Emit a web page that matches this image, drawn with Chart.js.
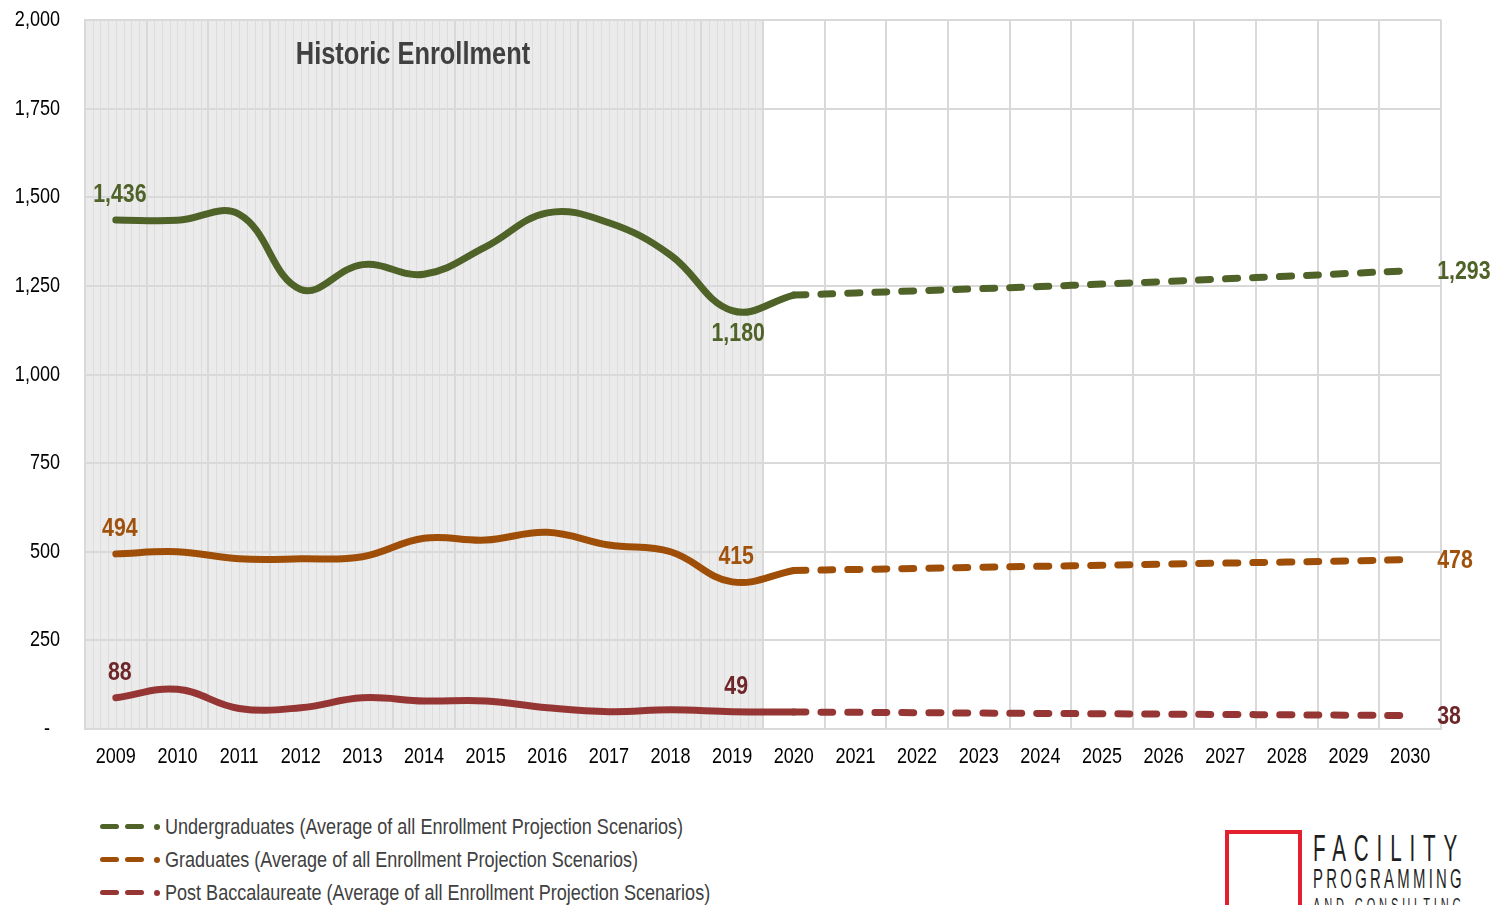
<!DOCTYPE html>
<html>
<head>
<meta charset="utf-8">
<script src="https://cdn.jsdelivr.net/npm/chart.js@4.4.1/dist/chart.umd.min.js"></script>
<style>
html,body{margin:0;padding:0;background:#fff;width:1497px;height:905px;overflow:hidden;position:relative;
  font-family:"Liberation Sans",Arial,sans-serif;}
#wrap{position:absolute;left:0;top:0;width:1497px;height:790px;}
#legend{position:absolute;left:100px;top:810px;}
.item{height:33px;display:flex;align-items:center;font-size:22px;color:#404040;white-space:nowrap;}
.dash{display:inline-block;width:19px;height:5px;border-radius:3px;margin-right:6px;flex:none;}
.dot{display:inline-block;width:6px;height:6px;border-radius:50%;margin-right:5px;margin-left:4px;flex:none;}
.txt{display:inline-block;transform:scaleX(0.82);transform-origin:left center;}
#logoBox{position:absolute;left:1225px;top:830px;width:69px;height:90px;border:4px solid #E2202E;box-sizing:content-box;}
.logoT{position:absolute;left:1313px;color:#1f1f1f;font-family:"Liberation Sans",sans-serif;white-space:nowrap;transform-origin:left top;line-height:1;}
</style>
</head>
<body>
<div id="wrap"><canvas id="c"></canvas></div>
<div id="legend"></div>
<div id="logoBox"></div>
<div class="logoT" data-w="152" style="top:830px;font-size:37px;letter-spacing:14px;">FACILITY</div>
<div class="logoT" data-w="152" style="top:866px;font-size:27px;letter-spacing:6px;">PROGRAMMING</div>
<div class="logoT" data-w="152" style="top:895px;font-size:20px;letter-spacing:7px;">AND CONSULTING</div>
<script>
// ---- data ----
const years = ['2009','2010','2011','2012','2013','2014','2015','2016','2017','2018','2019','2020','2021','2022','2023','2024','2025','2026','2027','2028','2029','2030'];
const ugHistoric   = [1436,1435,1452,1240,1310,1283,1360,1456,1428,1337,1180,1224,null,null,null,null,null,null,null,null,null,null];
const ugProjected  = [null,null,null,null,null,null,null,null,null,null,null,1224,1230,1236,1242,1248,1255,1262,1270,1277,1285,1293];
const grHistoric   = [494,500,480,480,486,538,533,555,519,500,415,447,null,null,null,null,null,null,null,null,null,null];
const grProjected  = [null,null,null,null,null,null,null,null,null,null,null,447,450,453,456,459,462,465,468,471,474,478];
const pbHistoric   = [88,112,58,60,88,79,79,60,49,54,49,48,null,null,null,null,null,null,null,null,null,null];
const pbProjected  = [null,null,null,null,null,null,null,null,null,null,null,48,47,46,45,44,43,42,41,40,39,38];
const yTicks = [0,250,500,750,1000,1250,1500,1750,2000];
const seriesNames = [
  'Undergraduates (Average of all Enrollment Projection Scenarios)',
  'Graduates (Average of all Enrollment Projection Scenarios)',
  'Post Baccalaureate (Average of all Enrollment Projection Scenarios)'
];
const historicTitle = 'Historic Enrollment';
const historicLastIndex = 10; // shading covers 2009..2019

const GREEN = '#4F6228', ORANGE = '#9F4E08', RED = '#963634';
const GREEN_T = '#4F6228', ORANGE_T = '#A0520C', RED_T = '#6E2628';
const FONT = '"Liberation Sans", Arial, sans-serif';
const NARROW = 0.82;

// logo fitting
document.querySelectorAll('.logoT').forEach(el => {
  const w = el.getBoundingClientRect().width;
  el.style.transform = `scaleX(${(+el.dataset.w) / w})`;
});

// legend (HTML)
const legendColors = [GREEN, ORANGE, RED];
const leg = document.getElementById('legend');
seriesNames.forEach((n, i) => {
  const d = document.createElement('div'); d.className = 'item';
  const c = legendColors[i];
  d.innerHTML = `<span class="dash" style="background:${c}"></span><span class="dash" style="background:${c}"></span><span class="dot" style="background:${c}"></span><span class="txt">${n}</span>`;
  leg.appendChild(d);
});

function narrowText(ctx, text, x, y, align, font, color) {
  ctx.save();
  ctx.font = font; ctx.fillStyle = color;
  ctx.textAlign = align; ctx.textBaseline = 'middle';
  ctx.translate(x, y); ctx.scale(NARROW, 1);
  ctx.fillText(text, 0, 0);
  ctx.restore();
}

const shadePlugin = {
  id: 'shade',
  beforeDraw(chart) {
    const {ctx, chartArea: a, scales: {x}} = chart;
    const bw = x.getPixelForValue(1) - x.getPixelForValue(0);
    const x1 = (x.getPixelForValue(historicLastIndex) + x.getPixelForValue(historicLastIndex + 1)) / 2;
    ctx.save();
    ctx.fillStyle = '#EBEBEB';
    ctx.fillRect(a.left, a.top, x1 - a.left, a.bottom - a.top);
    ctx.strokeStyle = '#DDDDDD';
    ctx.lineWidth = 1;
    for (let i = 0; i <= historicLastIndex; i++) {
      const s = x.getPixelForValue(i) - bw / 2;
      for (let k = 1; k < 8; k++) {
        const px = Math.round(s + k * bw / 8) + 0.5;
        ctx.beginPath(); ctx.moveTo(px, a.top); ctx.lineTo(px, a.bottom); ctx.stroke();
      }
    }
    ctx.restore();
  },
  beforeDatasetsDraw(chart) {
    const {ctx, chartArea: a, scales: {x, y}} = chart;
    const x1 = (x.getPixelForValue(historicLastIndex) + x.getPixelForValue(historicLastIndex + 1)) / 2;
    narrowText(ctx, historicTitle, (a.left + x1) / 2 - 11, 55, 'center', 'bold 31px ' + FONT, '#404040');
    x.ticks.forEach((t, i) => {
      narrowText(ctx, years[i], x.getPixelForTick(i), 757, 'center', '22px ' + FONT, '#000');
    });
    y.ticks.forEach((t) => {
      const v = t.value;
      const s = v === 0 ? '-' : v.toLocaleString('en-US');
      narrowText(ctx, s, v === 0 ? 50 : 60, y.getPixelForValue(v), 'right', '22px ' + FONT, '#000');
    });
  }
};

const labelSpecs = [
  {ds: 0, i: 0, pos: 'above', color: GREEN_T},
  {ds: 0, i: 10, pos: 'below', color: GREEN_T},
  {ds: 1, i: 21, pos: 'right', color: GREEN_T},
  {ds: 2, i: 0, pos: 'above', color: ORANGE_T},
  {ds: 2, i: 10, pos: 'above', color: ORANGE_T},
  {ds: 3, i: 21, pos: 'right', color: ORANGE_T},
  {ds: 4, i: 0, pos: 'above', color: RED_T},
  {ds: 4, i: 10, pos: 'above', color: RED_T},
  {ds: 5, i: 21, pos: 'right', color: RED_T}
];
const labelPlugin = {
  id: 'vlabels',
  afterDatasetsDraw(chart) {
    const ctx = chart.ctx;
    const f = 'bold 26px ' + FONT;
    labelSpecs.forEach(s => {
      const el = chart.getDatasetMeta(s.ds).data[s.i];
      const v = chart.data.datasets[s.ds].data[s.i];
      const t = v.toLocaleString('en-US');
      if (s.pos === 'right') narrowText(ctx, t, el.x + 27, el.y + 1, 'left', f, s.color);
      else if (s.pos === 'above') narrowText(ctx, t, el.x + 4, el.y - 25, 'center', f, s.color);
      else narrowText(ctx, t, el.x + 6, el.y + 23, 'center', f, s.color);
    });
  }
};

function hist(data, color) {
  return {data, borderColor: color, backgroundColor: color, borderWidth: 7, tension: 0.4,
    pointRadius: 0, borderCapStyle: 'round', borderJoinStyle: 'round', fill: false};
}
function proj(data, color, label) {
  return {label, data, borderColor: color, backgroundColor: color, borderWidth: 7, tension: 0.4,
    pointRadius: 0, borderCapStyle: 'round', borderDash: [12, 15], fill: false};
}

new Chart(document.getElementById('c'), {
  type: 'line',
  data: {
    labels: years,
    datasets: [
      hist(ugHistoric, GREEN), proj(ugProjected, GREEN, seriesNames[0]),
      hist(grHistoric, ORANGE), proj(grProjected, ORANGE, seriesNames[1]),
      hist(pbHistoric, RED), proj(pbProjected, RED, seriesNames[2])
    ]
  },
  options: {
    responsive: true, maintainAspectRatio: false, animation: false,
    layout: {padding: {left: 0, right: 56, top: 20, bottom: 0}},
    plugins: {legend: {display: false}, tooltip: {enabled: false}},
    scales: {
      x: {
        offset: true,
        grid: {offset: true, color: '#D9D9D9', lineWidth: 2, drawTicks: false},
        border: {color: '#D9D9D9', width: 2},
        ticks: {color: 'rgba(0,0,0,0)', font: {family: FONT, size: 18}, padding: 17, maxRotation: 0, autoSkip: false},
        afterFit(s) { s.height = 61; s.paddingLeft = 0; s.paddingRight = 0; }
      },
      y: {
        min: 0, max: 2000,
        afterBuildTicks(s) { s.ticks = yTicks.map(v => ({value: v})); },
        grid: {color: '#D9D9D9', lineWidth: 2, drawTicks: false},
        border: {color: '#D9D9D9', width: 2},
        ticks: {color: 'rgba(0,0,0,0)', font: {family: FONT, size: 18}, padding: 25,
          callback: v => v === 0 ? '-' : v.toLocaleString('en-US')},
        afterFit(s) { s.width = 85; s.paddingTop = 0; s.paddingBottom = 0; }
      }
    }
  },
  plugins: [shadePlugin, labelPlugin]
});
</script>
</body>
</html>
